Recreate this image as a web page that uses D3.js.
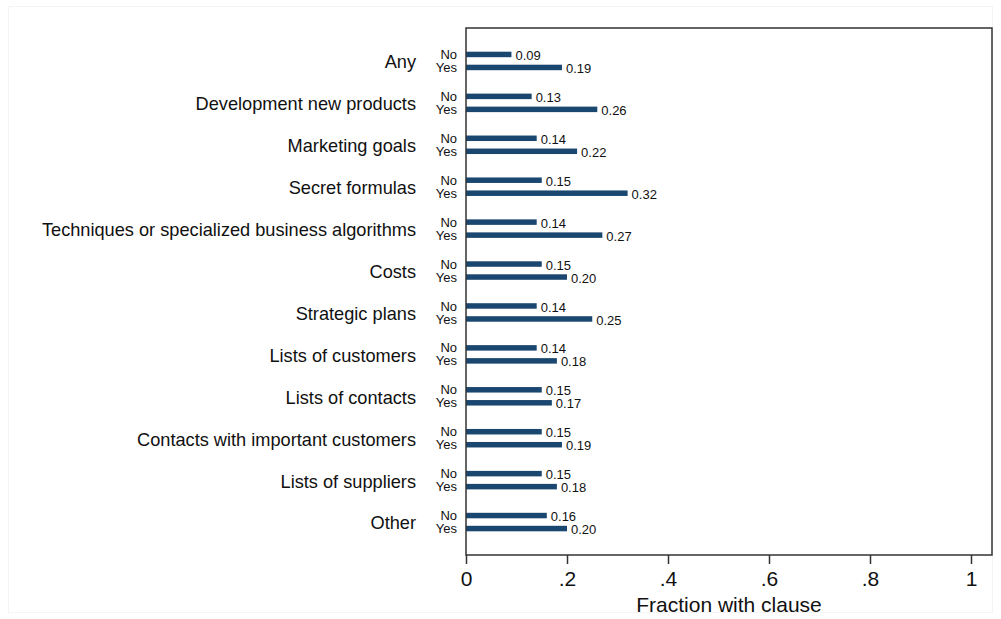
<!DOCTYPE html>
<html>
<head>
<meta charset="utf-8">
<script src="https://cdn.jsdelivr.net/npm/d3@7"></script>
<style>
html,body{margin:0;padding:0;background:#fff;}
svg{display:block;font-family:"Liberation Sans",Arial,sans-serif;}
</style>
</head>
<body>
<svg id="chart" width="1001" height="619"></svg>
<script>
const categories = ["Any","Development new products","Marketing goals","Secret formulas","Techniques or specialized business algorithms","Costs","Strategic plans","Lists of customers","Lists of contacts","Contacts with important customers","Lists of suppliers","Other"];
const noValues  = [0.09,0.13,0.14,0.15,0.14,0.15,0.14,0.14,0.15,0.15,0.15,0.16];
const yesValues = [0.19,0.26,0.22,0.32,0.27,0.20,0.25,0.18,0.17,0.19,0.18,0.20];
const subLabels = ["No","Yes"];
const xTicks = [0,0.2,0.4,0.6,0.8,1];
const xTickLabels = ["0",".2",".4",".6",".8","1"];

const svg = d3.select("#chart");
const W = 1001, H = 619;
// faint outer border
svg.append("rect").attr("x",8.5).attr("y",6.5).attr("width",W-17).attr("height",H-13)
  .attr("fill","#fff").attr("stroke","#f4f4f4").attr("stroke-width",1);

const plot = {left:466, top:28, right:992, bottom:555};
const x = d3.scaleLinear().domain([0,1]).range([plot.left, 971]);
const y = d3.scalePoint().domain(categories).range([plot.top, plot.bottom]).padding(0.786);
const sub = d3.scalePoint().domain(subLabels).range([-6.5, 6.5]);
const barH = 5.5;
const color = "#1a476f";

const rows = [];
categories.forEach((c,i)=>{
  rows.push({cat:c, sub:"No", v:noValues[i]});
  rows.push({cat:c, sub:"Yes", v:yesValues[i]});
});

const g = svg.append("g");
g.selectAll("rect.bar").data(rows).join("rect").attr("class","bar")
  .attr("x", x(0)).attr("y", d=>y(d.cat)+sub(d.sub)-barH/2)
  .attr("width", d=>x(d.v)-x(0)).attr("height", barH).attr("fill", color);

g.selectAll("text.val").data(rows).join("text").attr("class","val")
  .attr("x", d=>x(d.v)+4).attr("y", d=>y(d.cat)+sub(d.sub)+1).attr("dy","0.35em")
  .attr("font-size",13).attr("fill","#111").text(d=>d.v.toFixed(2));

g.selectAll("text.sub").data(rows).join("text").attr("class","sub")
  .attr("x", 457).attr("y", d=>y(d.cat)+sub(d.sub)).attr("dy","0.35em")
  .attr("text-anchor","end").attr("font-size",13).attr("fill","#111").text(d=>d.sub);

g.selectAll("text.cat").data(categories).join("text").attr("class","cat")
  .attr("x", 416).attr("y", d=>y(d)+1).attr("dy","0.35em")
  .attr("text-anchor","end").attr("font-size",18.2).attr("fill","#111").text(d=>d);

// frame
svg.append("rect").attr("x",plot.left).attr("y",plot.top)
  .attr("width",plot.right-plot.left).attr("height",plot.bottom-plot.top)
  .attr("fill","none").attr("stroke","#333").attr("stroke-width",1.5);

// x axis
const axis = d3.axisBottom(x).tickValues(xTicks).tickSize(9).tickPadding(7)
  .tickFormat((d,i)=>xTickLabels[i]);
const ax = svg.append("g").attr("transform",`translate(0,${plot.bottom})`).call(axis);
ax.select(".domain").remove();
ax.selectAll(".tick line").attr("stroke","#333").attr("stroke-width",1.5);
ax.selectAll(".tick text").attr("font-size",21).attr("fill","#111")
  .attr("font-family","'Liberation Sans',Arial,sans-serif");

svg.append("text").attr("x",(plot.left+plot.right)/2).attr("y",612)
  .attr("text-anchor","middle").attr("font-size",21).attr("fill","#111")
  .text("Fraction with clause");
</script>
</body>
</html>
